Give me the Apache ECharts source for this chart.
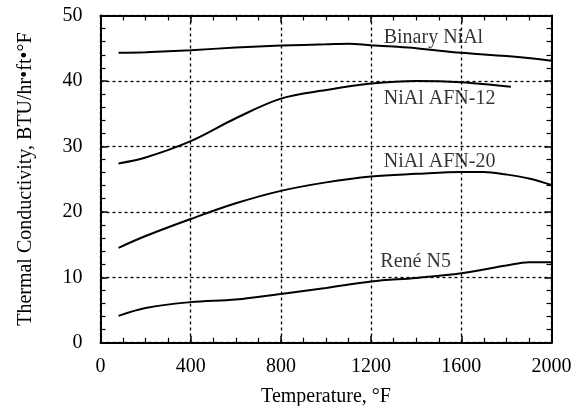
<!DOCTYPE html>
<html>
<head>
<meta charset="utf-8">
<script src="https://cdn.jsdelivr.net/npm/echarts@6/dist/echarts.min.js"></script>
<style>
  html, body { margin: 0; padding: 0; background: #fff; }
  #chart { width: 583px; height: 406px; }
</style>
</head>
<body>
<div id="chart"></div>
<script>
// Thermal conductivity (BTU/hr·ft·°F) versus temperature (°F)
const binaryNiAl = [[80, 44.3], [200, 44.4], [400, 44.7], [600, 45.1], [800, 45.4], [1000, 45.6], [1100, 45.7], [1200, 45.45], [1300, 45.25], [1400, 45.0], [1600, 44.3], [1800, 43.8], [2000, 43.1]];
const afn12 = [[80, 27.4], [200, 28.3], [400, 30.8], [600, 34.3], [800, 37.3], [1000, 38.6], [1200, 39.6], [1400, 40.0], [1600, 39.8], [1820, 39.1]];
const afn20 = [[80, 14.5], [200, 16.3], [400, 18.9], [600, 21.3], [800, 23.2], [1000, 24.5], [1200, 25.4], [1400, 25.8], [1600, 26.1], [1700, 26.1], [1800, 25.7], [1900, 25.1], [2000, 24.1]];
const reneN5 = [[80, 4.1], [200, 5.3], [400, 6.2], [600, 6.6], [800, 7.45], [1000, 8.35], [1200, 9.35], [1400, 9.9], [1600, 10.6], [1800, 11.8], [1900, 12.3], [2000, 12.3]];

// Curve names and where each name is written
const curveNames = ['Binary NiAl', 'NiAl AFN-12', 'NiAl AFN-20', 'René N5'];
const nameAnchors = [[1256, 46.6], [1256, 37.3], [1256, 27.6], [1241, 12.3]];

const xTicks = { min: 0, max: 2000, interval: 400 };
const yTicks = { min: 0, max: 50, interval: 10 };

const serif = '"Liberation Serif", "DejaVu Serif", serif';

function frameAxis(pos, range, labels, minorSplit) {
  return {
    type: 'value',
    position: pos,
    min: range.min, max: range.max, interval: range.interval,
    axisLine: { show: true, onZero: false, lineStyle: { color: '#000', width: 2 } },
    axisTick: { show: true, inside: true, length: 7, lineStyle: { color: '#000', width: 1.5 } },
    minorTick: { show: true, splitNumber: minorSplit, length: 5, lineStyle: { color: '#000', width: 1.2 } },
    axisLabel: { show: labels, color: '#000', fontFamily: serif, fontSize: 20, margin: 14,
                 formatter: v => String(v) },
    splitLine: { show: false }
  };
}

const chart = echarts.init(document.getElementById('chart'), null, { renderer: 'canvas' });

const lineStyle = { color: '#000', width: 2 };
const curves = [binaryNiAl, afn12, afn20, reneN5].map((d, i) => ({
  name: curveNames[i],
  type: 'line',
  data: d,
  smooth: 0.35,
  showSymbol: false,
  lineStyle: lineStyle,
  z: 5
}));

const gridLine = { show: true, lineStyle: { color: '#000', width: 1.3, type: [3, 3] } };

const xBottom = Object.assign(frameAxis('bottom', xTicks, true, 4), {
  name: 'Temperature, °F',
  nameLocation: 'middle',
  nameGap: 44,
  nameTextStyle: { color: '#000', fontFamily: serif, fontSize: 20 },
  splitLine: gridLine
});
const yLeft = Object.assign(frameAxis('left', yTicks, true, 5), {
  name: 'Thermal Conductivity, BTU/hr•ft•°F',
  nameLocation: 'middle',
  nameGap: 65,
  nameTextStyle: { color: '#000', fontFamily: serif, fontSize: 20 },
  splitLine: gridLine
});
yLeft.axisLabel.margin = 18;

chart.setOption({
  backgroundColor: '#fff',
  animation: false,
  grid: { left: 100.5, right: 31.5, top: 15.5, bottom: 63.3, containLabel: false, outerBoundsMode: 'none' },
  xAxis: [xBottom, frameAxis('top', xTicks, false, 4)],
  yAxis: [yLeft, frameAxis('right', yTicks, false, 5)],
  series: curves.concat([{
    type: 'scatter',
    symbolSize: 0,
    silent: true,
    data: nameAnchors.map((c, i) => ({ value: c, name: curveNames[i] })),
    label: {
      show: true,
      position: 'right',
      distance: 0,
      formatter: p => p.name,
      color: '#000',
      fontFamily: serif,
      fontSize: 20
    },
    z: 6
  }])
});
</script>
</body>
</html>
